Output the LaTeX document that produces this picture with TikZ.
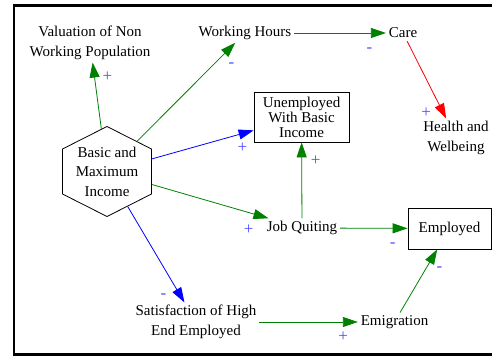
\documentclass[tikz,border=0pt]{standalone}
\usepackage{fontspec}
\setmainfont{Liberation Serif}
\usetikzlibrary{arrows.meta,shapes.geometric}

\begin{document}
\begin{tikzpicture}[x=1pt,y=-1pt,->,>={Triangle[length=15pt,width=10pt]},line width=0.8pt,
    var node/.style={align=center,inner sep=2.5pt,font=\fontsize{15}{19.5}\selectfont},
    stock node/.style={draw,rectangle,align=center,inner sep=2pt,line width=0.8pt,font=\fontsize{15}{15}\selectfont},
    hex node/.style={draw,regular polygon,regular polygon sides=6,shape border rotate=90,minimum size=90pt,inner sep=0pt,xscale=1.142,transform shape},
    pos link/.style={draw=green!50!black},
    neg link/.style={draw=blue},
    red link/.style={draw=red},
    sign/.style={text=blue!70,inner sep=0pt,font=\fontsize{17}{17}\selectfont}]
                \clip (0,0) rectangle (492,358);
                \draw[-,line width=2.5pt] (14,5.5) rectangle (510,354.5);

                \node[hex node] (bmi) at (107,171.5) {};
                \node[var node] (bmitxt) at (bmi) {Basic and\\Maximum\\Income};
                \node[var node] (val) at (90,43) {Valuation of Non\\Working Population};
                \node[var node] (wh) at (245,33) {Working Hours};
                \node[var node] (care) at (403,33) {Care};
                \node[var node] (health) at (456,138) {Health and\\Welbeing};
                \node[stock node,minimum width=95pt,minimum height=50pt] (unemp) at (301.5,117) {Unemployed\\With Basic\\Income};
                \node[var node] (jq) at (302,228) {Job Quiting};
                \node[stock node,minimum width=83pt,minimum height=41pt] (emp) at (449.5,228.5) {Employed};
                \node[var node] (emig) at (394.5,322) {Emigration};
                \node[var node] (sat) at (196,322) {Satisfaction of High\\End Employed};

                \path
                    (bmi) edge[pos link] node[sign,pos=.78,xshift=13pt] {+} (val)
                    (bmi) edge[pos link] node[sign,pos=.88,xshift=8pt,yshift=-11pt] {-} (wh)
                    (bmi) edge[neg link] node[sign,pos=.89,yshift=-14pt] {+} (unemp)
                    (bmi) edge[pos link] node[sign,pos=.83,yshift=-17pt] {+} (jq)
                    (bmi) edge[neg link] node[sign,pos=.93,xshift=-17pt] {-} (sat)
                    (wh) edge[pos link] node[sign,pos=.82,yshift=-17pt] {-} (care)
                    (care) edge[red link] node[sign,pos=.92,xshift=-17pt] {+} (health)
                    (jq) edge[pos link] node[sign,pos=.76,xshift=14pt] {+} (unemp)
                    (jq) edge[pos link] node[sign,pos=.78,yshift=-17pt] {-} (emp)
                    (sat) edge[pos link] node[sign,pos=.85,yshift=-15pt] {+} (emig)
                    (emig) edge[pos link] node[sign,pos=.68,xshift=14pt] {-} (emp)
                ;

            \end{tikzpicture}
\end{document}
